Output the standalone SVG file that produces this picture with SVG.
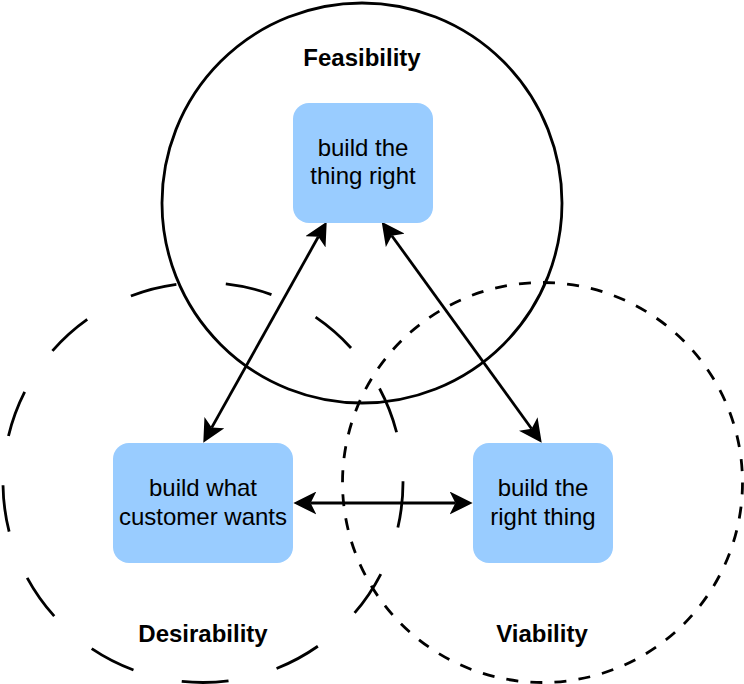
<svg xmlns="http://www.w3.org/2000/svg" width="744" height="684" viewBox="0 0 744 684">
  <style>
    .ring { fill: none; stroke: #000; stroke-width: 2.8; }
    .node rect { fill: #99CCFF; stroke: none; }
    .node text { font-family: "Liberation Sans", Arial, Helvetica, sans-serif; font-size: 24px; fill: #000; text-anchor: middle; }
    .label { font-family: "Liberation Sans", Arial, Helvetica, sans-serif; font-size: 24px; font-weight: bold; fill: #000; text-anchor: middle; }
    .edge { fill: none; stroke: #000; stroke-width: 2.8; marker-start: url(#arrow); marker-end: url(#arrow); }
  </style>
  <defs>
    <marker id="arrow" markerUnits="userSpaceOnUse" markerWidth="23" markerHeight="23" viewBox="0 0 23 23" refX="5.75" refY="11.5" orient="auto-start-reverse">
      <path d="M23,11.5 L0,0 L5.75,11.5 L0,23 Z" fill="#000"/>
    </marker>
  </defs>
  <rect width="744" height="684" fill="#fff"/>

  <g id="feasibility">
    <circle class="ring" cx="362" cy="203" r="200"/>
    <text class="label" x="362" y="66">Feasibility</text>
  </g>
  <g id="desirability">
    <circle class="ring" cx="203" cy="482.5" r="200" stroke-dasharray="47 49.66" stroke-dashoffset="1.6"/>
    <text class="label" x="203" y="642">Desirability</text>
  </g>
  <g id="viability">
    <circle class="ring" cx="542.5" cy="482.5" r="200" stroke-dasharray="12 12.17"/>
    <text class="label" x="542" y="642">Viability</text>
  </g>

  <g id="connectors">
    <line class="edge" x1="318.3" y1="236.8" x2="211.7" y2="427.6"/>
    <line class="edge" x1="391.8" y1="235.7" x2="531.6" y2="428.7"/>
    <line class="edge" x1="310.6" y1="503" x2="455.4" y2="503"/>
  </g>

  <g id="node-thing-right" class="node">
    <rect x="293" y="103" width="140" height="120" rx="16" ry="16"/>
    <text x="363" y="155.5">build the</text>
    <text x="363" y="184">thing right</text>
  </g>
  <g id="node-customer-wants" class="node">
    <rect x="113" y="443" width="180" height="120" rx="16" ry="16"/>
    <text x="203" y="496">build what</text>
    <text x="203" y="525">customer wants</text>
  </g>
  <g id="node-right-thing" class="node">
    <rect x="473" y="443" width="140" height="120" rx="16" ry="16"/>
    <text x="543" y="496">build the</text>
    <text x="543" y="525">right thing</text>
  </g>
</svg>
